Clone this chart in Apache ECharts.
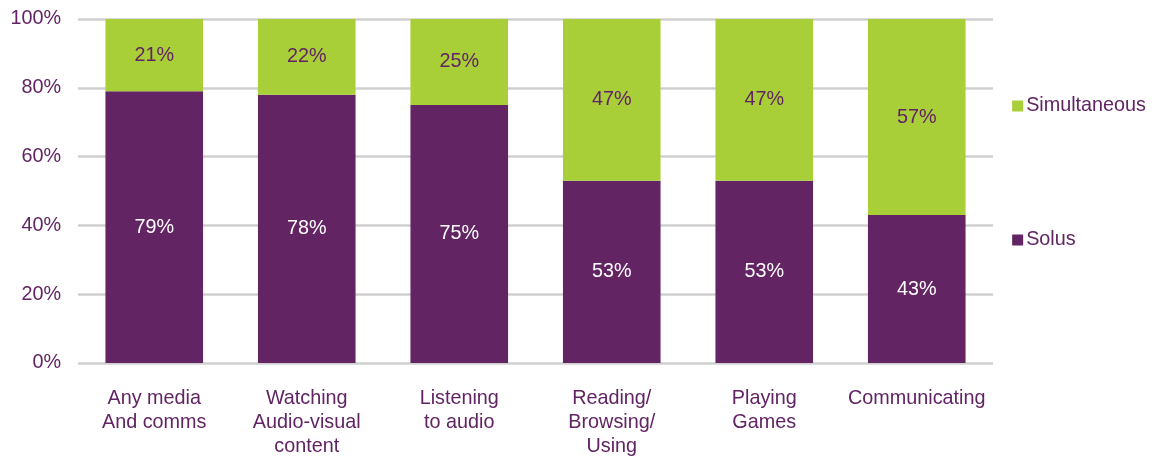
<!DOCTYPE html>
<html>
<head>
<meta charset="utf-8">
<script src="https://cdn.jsdelivr.net/npm/echarts@6/dist/echarts.min.js"></script>
<style>
  html, body { margin: 0; padding: 0; background: #fff; }
  #chart { width: 1156px; height: 459px; }
</style>
</head>
<body>
<div id="chart"></div>
<script>
const categories = ['Any media\nAnd comms', 'Watching\nAudio-visual\ncontent', 'Listening\nto audio', 'Reading/\nBrowsing/\nUsing', 'Playing\nGames', 'Communicating'];
const solus = [79, 78, 75, 53, 53, 43];
const simultaneous = [21, 22, 25, 47, 47, 57];
const yTicks = [0, 20, 40, 60, 80, 100];

const purple = '#622463';
const green = '#a9cf38';
const textColor = '#612363';
const font = 'Liberation Sans, Arial, sans-serif';
const fs = 19.8;

let chart = echarts.init(document.getElementById('chart'));
chart.setOption({
  animation: false,
  textStyle: { fontFamily: font },
  grid: { left: 78, right: 163, top: 19, bottom: 94 },
  legend: {
    orient: 'vertical',
    right: 5,
    top: 91,
    itemGap: 114,
    itemWidth: 11,
    itemHeight: 11,
    icon: 'rect',
    data: ['Simultaneous', 'Solus'],
    textStyle: { color: textColor, fontSize: fs, fontFamily: font, padding: [0, 0, 0, -2] }
  },
  xAxis: {
    type: 'category',
    data: categories,
    axisLine: { show: false },
    axisTick: { show: false },
    axisLabel: {
      color: textColor,
      fontSize: fs,
      fontFamily: font,
      lineHeight: 24,
      margin: 24,
      verticalAlign: 'top',
      interval: 0
    }
  },
  yAxis: {
    type: 'value',
    min: yTicks[0],
    max: yTicks[yTicks.length - 1],
    interval: 20,
    axisLine: { show: false },
    axisTick: { show: false },
    splitLine: { lineStyle: { color: '#d0d0d0', width: 2.5 } },
    axisLabel: {
      color: textColor,
      fontSize: fs,
      fontFamily: font,
      margin: 17,
      formatter: v => v + '%'
    }
  },
  series: [
    {
      name: 'Solus',
      type: 'bar',
      stack: 'total',
      barWidth: '64%',
      data: solus,
      itemStyle: { color: purple },
      label: {
        show: true,
        position: 'inside',
        color: '#ffffff',
        fontSize: fs,
        fontFamily: font,
        formatter: p => p.value + '%'
      }
    },
    {
      name: 'Simultaneous',
      type: 'bar',
      stack: 'total',
      barWidth: '64%',
      data: simultaneous,
      itemStyle: { color: green },
      label: {
        show: true,
        position: 'inside',
        color: textColor,
        fontSize: fs,
        fontFamily: font,
        formatter: p => p.value + '%'
      }
    }
  ]
});
</script>
</body>
</html>
